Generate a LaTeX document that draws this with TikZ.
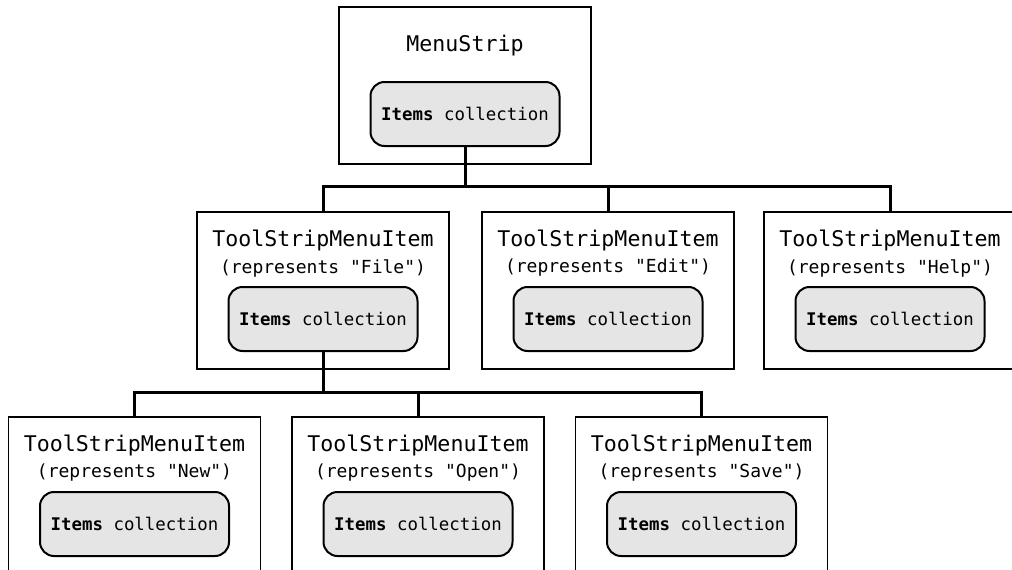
\documentclass[tikz,border=0pt]{standalone}
\usepackage{fontspec}
\setmonofont{DejaVu Sans Mono}
\usepackage{tikz}
\usetikzlibrary{positioning}
\tikzset{
  menubox/.style={draw,line width=1.5pt,minimum width=252pt,minimum height=157pt,inner sep=0pt},
  itembox/.style={draw,line width=2pt,fill=black!10,rounded corners=14pt,
    minimum width=189pt,minimum height=64pt,inner sep=0pt,
    font=\ttfamily\fontsize{17.4}{20}\selectfont},
  titletext/.style={font=\ttfamily\fontsize{21.6}{24}\selectfont,inner sep=0pt},
  reptext/.style={font=\ttfamily\fontsize{18}{20}\selectfont,inner sep=0pt},
  link/.style={line width=3pt}
}
% #1 name, #2 x, #3 top, #4 what the item represents
\newcommand{\menuitem}[4]{%
  \node[menubox,anchor=north] (#1) at (#2,#3) {};
  \node[titletext] (#1-title) at ([yshift=-29pt]#1.north) {ToolStripMenuItem};
  \node[reptext] (#1-rep) at ([yshift=-57pt]#1.north) {(represents "#4")};
  \node[itembox] (#1-items) at ([yshift=-108pt]#1.north) {\textbf{Items} collection};
}

\begin{document}
\begin{tikzpicture}[x=1pt,y=-1pt]
  \clip (0,0) rectangle (1012,570);
  \fill[white] (0,0) rectangle (1012,570);

  % top level
  \node[menubox,anchor=north] (strip) at (465,6) {};
  \node[titletext] (strip-title) at ([yshift=-40pt]strip.north) {MenuStrip};
  \node[itembox] (strip-items) at ([yshift=-108pt]strip.north) {\textbf{Items} collection};

  % second level
  \menuitem{file}{323}{211}{File}
  \menuitem{edit}{608}{211}{Edit}
  \menuitem{help}{890}{211}{Help}

  % third level
  \menuitem{new}{134.5}{416}{New}
  \menuitem{open}{418}{416}{Open}
  \menuitem{save}{701.5}{416}{Save}

  % connectors
  \coordinate (bus1) at (strip-items.south |- 0,186);
  \draw[link] (strip-items.south) -- (bus1);
  \draw[link] (file.north) |- (bus1) -| (help.north);
  \draw[link] (edit.north) -- (edit.north |- bus1);

  \coordinate (bus2) at (file-items.south |- 0,392);
  \draw[link] (file-items.south) -- (bus2);
  \draw[link] (new.north) |- (bus2) -| (save.north);
  \draw[link] (open.north) -- (open.north |- bus2);
\end{tikzpicture}
\end{document}
